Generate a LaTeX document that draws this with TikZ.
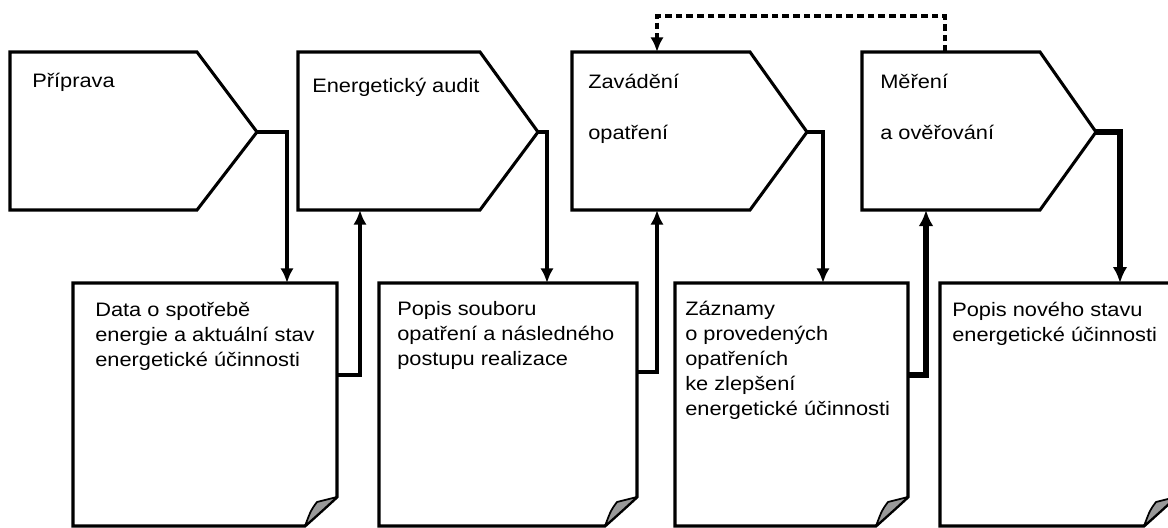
\documentclass[tikz,border=0pt]{standalone}
\usepackage{fontspec}
\setmainfont{Liberation Sans}[FakeStretch=1.12]
\usetikzlibrary{arrows.meta}
\begin{document}
\begin{tikzpicture}[x=0.75pt,y=-0.75pt,
  box/.style={line width=2.3pt, line join=miter},
  conn/.style={line width=2.4pt, -{Latex[length=11pt,width=10pt]}},
  thickconn/.style={line width=3.8pt, -{Latex[length=12pt,width=11pt]}},
  dashconn/.style={line width=2.5pt, dash pattern=on 5pt off 3pt, -{Latex[length=11pt,width=10pt]}},
  lbl/.style={anchor=base west, inner sep=0pt, align=left, font=\fontsize{14.6pt}{18.75pt}\selectfont},
  hlbl/.style={anchor=base west, inner sep=0pt, align=left, font=\fontsize{14.6pt}{39pt}\selectfont},
  curl/.style={fill=black!40, draw=black, line width=1.3pt, line join=round}]
\useasboundingbox (0,0) rectangle (1168,528);
\fill[white] (0,0) rectangle (1168,528);

\newcommand\pentbox[4]{%
  \draw[box] (#2,52) -- (#3,52) -- (#4,132) -- (#3,210) -- (#2,210) -- cycle;
  \coordinate (#1tip) at (#4,132);
}
\newcommand\docbox[3]{%
  \draw[box] (#2,283) -- (#3,283) -- (#3,497) .. controls ({#3-12},508) .. ({#3-32},526) -- (#2,526) -- cycle;
  \draw[curl] (#3,497) -- ({#3-20},502) .. controls ({#3-26},510) .. ({#3-32},526) .. controls ({#3-14},510) .. cycle;
}

% process boxes
\pentbox{b1}{10}{197}{257}
\pentbox{b2}{298}{480}{538}
\pentbox{b3}{572}{750}{807}
\pentbox{b4}{862}{1040}{1096}

% document boxes
\docbox{d1}{73}{337}
\docbox{d2}{379}{637}
\docbox{d3}{675}{908}
\docbox{d4}{940}{1176}

% connector end points
\coordinate (d1in) at (287,283);
\coordinate (d1out) at (337,375);
\coordinate (b2in) at (360,210);
\coordinate (d2in) at (547,283);
\coordinate (d2out) at (637,372);
\coordinate (b3in) at (657,210);
\coordinate (d3in) at (823,283);
\coordinate (d3out) at (908,375);
\coordinate (b4in) at (926,210);
\coordinate (d4in) at (1120,283);
\coordinate (b4top) at (945,52);
\coordinate (b3top) at (657,52);
\coordinate (fb) at (945,16);

% connectors
\draw[conn] (b1tip) -| (d1in);
\draw[conn] (d1out) -| (b2in);
\draw[conn] (b2tip) -| (d2in);
\draw[conn] (d2out) -| (b3in);
\draw[conn] (b3tip) -| (d3in);
\draw[thickconn] (d3out) -| (b4in);
\draw[thickconn] (b4tip) -| (d4in);
\draw[dashconn] (b4top) -- (fb) -| (b3top);

% labels (base anchor = baseline of the last line)
\node[hlbl] (t1) at (32,88) {Příprava};
\node[hlbl] (t2) at (312,93) {Energetický audit};
\node[hlbl] (t3) at (588,140) {Zavádění\\opatření};
\node[hlbl] (t4) at (880,140) {Měření\\a ověřování};
\node[lbl] (d1t) at (95,366) {Data o spotřebě\\energie a aktuální stav\\energetické účinnosti};
\node[lbl] (d2t) at (397,365) {Popis souboru\\opatření a následného\\postupu realizace};
\node[lbl] (d3t) at (685,415) {Záznamy\\o provedených\\opatřeních\\ke zlepšení\\energetické účinnosti};
\node[lbl] (d4t) at (952,341) {Popis nového stavu\\energetické účinnosti};
\end{tikzpicture}
\end{document}
